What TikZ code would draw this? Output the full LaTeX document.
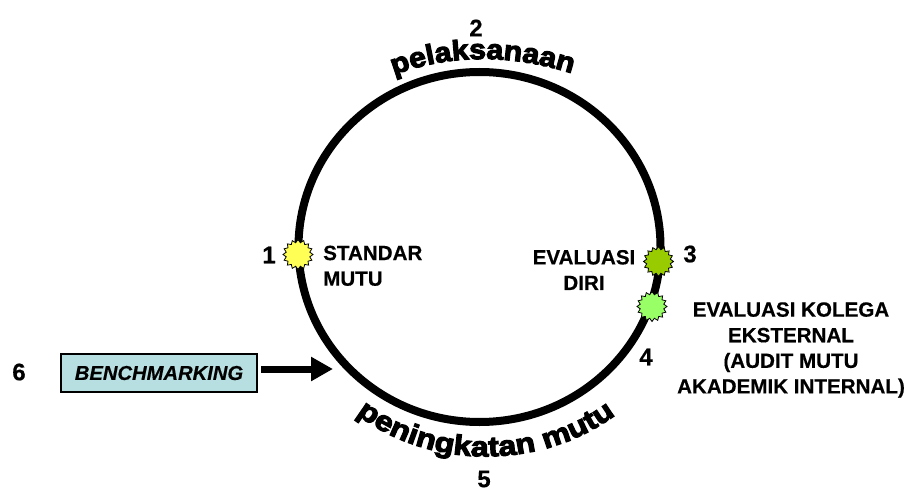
\documentclass[tikz,border=0pt]{standalone}
\usepackage{fontspec}
\setmainfont[FakeBold=0.4]{Liberation Sans}
\newfontfamily\wordartA[FakeBold=4,FakeStretch=1.08]{Liberation Sans Bold}
\newfontfamily\wordartB[FakeBold=4,FakeStretch=1.15]{Liberation Sans Bold}
\usetikzlibrary{shapes.geometric,decorations.text,arrows.meta}
\definecolor{benchfill}{HTML}{B7DFE1}
\definecolor{burstyellow}{HTML}{FFFF55}
\definecolor{burstolive}{HTML}{99CC00}
\definecolor{burstlight}{HTML}{99FF66}
\tikzset{
  lbl/.style={font=\fontsize{20.6}{25.6}\selectfont\bfseries,align=center,inner sep=0pt,text=black},
  num/.style={font=\fontsize{24}{24}\selectfont\bfseries,inner sep=0pt,text=black},
  burst/.style={star,star points=16,star point ratio=1.25,minimum size=30pt,inner sep=0pt,draw=black,line width=0.8pt},
  ring/.style={draw=black,line width=8pt,ellipse,minimum width=362pt,minimum height=350pt,inner sep=0pt},
  bench/.style={draw=black,line width=2.2pt,fill=benchfill,minimum width=196pt,minimum height=38pt,inner sep=0pt,font=\fontsize{20.2}{24}\selectfont\bfseries\itshape},
}
\begin{document}
\begin{tikzpicture}[x=1pt,y=-1pt]
\useasboundingbox (0,0) rectangle (907,489);
\node[ring] (ring) at (479.5,247) {};
\node[num] (n2) at (476,28) {2};
\node[num] (n5) at (484,479) {5};
\node[num] (n1) at (269,255) {1};
\node[num] (n3) at (690,254) {3};
\node[num] (n4) at (646,357) {4};
\node[num] (n6) at (19,372) {6};
\node[burst,fill=burstyellow] (s1) at (298,254.5) {};
\node[burst,fill=burstolive] (s3) at (658.5,261.5) {};
\node[burst,fill=burstlight] (s4) at (652,306.5) {};
\node[lbl,align=left,anchor=north west] (standar) at (323,245.5) {STANDAR\\MUTU};
\node[lbl] (evaldiri) at (584,270) {EVALUASI\\DIRI};
\node[lbl] (kolega) at (791,350) {EVALUASI KOLEGA\\EKSTERNAL\\(AUDIT MUTU\\AKADEMIK INTERNAL)};
\node[bench] (bm) at (159,373) {BENCHMARKING};
\coordinate (tail) at (261,369);
\coordinate (tip) at (333,369);
\draw[line width=7pt,-{Triangle[length=22pt,width=23pt]}] (tail) -- (tip);
\path[decorate,decoration={text along path,text align=center,
  text={|\wordartA\fontsize{28}{28}\selectfont|pelaksanaan}}]
  (386,78) .. controls (450,52) and (515,54) .. (580,76);
\path[decorate,decoration={text along path,text align=center,
  text={|\wordartB\fontsize{28}{28}\selectfont|peningkatan mutu}}]
  (350,409) .. controls (425,472) and (545,472) .. (622,410);
\end{tikzpicture}
\end{document}
